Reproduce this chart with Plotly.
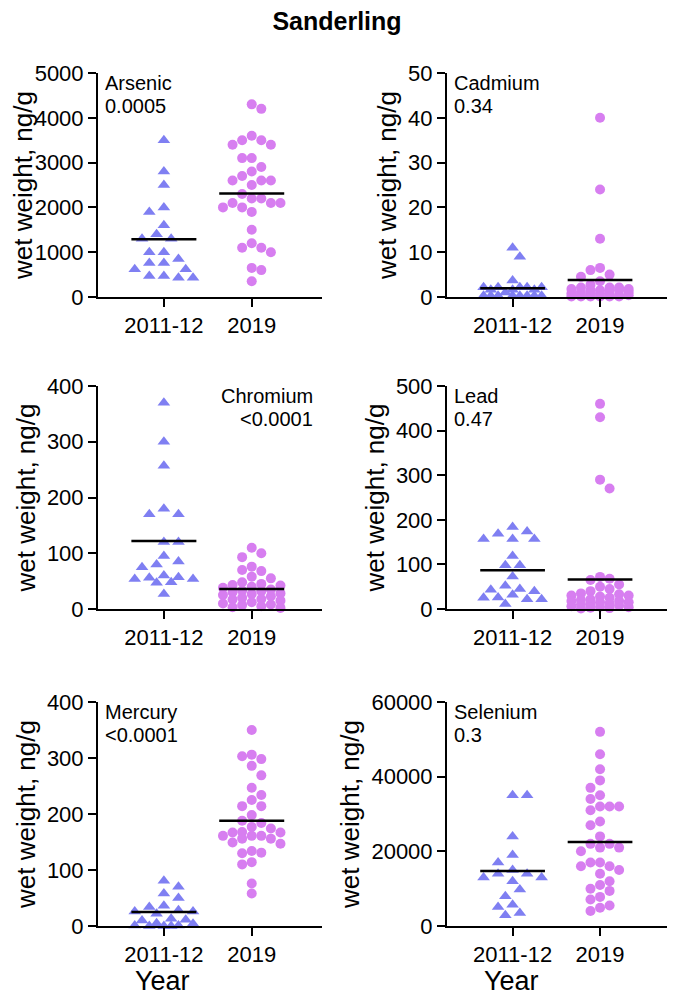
import plotly.graph_objects as go
from plotly.subplots import make_subplots

years = ["2011-12", "2019"]

# values (wet weight, ng/g)
arsenic_2011 = [3500, 2800, 2500, 2000, 1900, 1600, 1400, 1300, 1300, 1000, 1000,
                850, 760, 760, 620, 620, 470, 470, 430, 430]
arsenic_2019 = [4300, 4200, 3600, 3500, 3500, 3400, 3400, 3100, 3100, 2900, 2800,
                2700, 2600, 2600, 2600, 2500, 2300, 2200, 2200, 2100, 2100, 2100,
                2000, 2000, 1900, 1500, 1200, 1100, 1100, 1000, 650, 600, 350]
cadmium_2011 = [11, 9, 3.7, 2.2, 2.2, 2.2, 2.2, 2.2, 1.6, 1.6, 1.6, 1.0, 0.3, 0.3,
                0.3, 0.3, 0.3, 0.3, 0.3, 0.3]
cadmium_2019 = [40, 24, 13, 6.5, 6, 5, 4.5, 3.5, 2.7, 2.1, 2.1, 2.1, 1.8, 1.8,
                1.5, 1.5, 1.5, 1.5, 1.1, 1.1, 0.8, 0.8, 0.8, 0.8, 0.4, 0.4, 0.4,
                0.1, 0.1, 0.1, 0.1, 0.1, 0.1]
chromium_2011 = [370, 300, 257, 180, 170, 170, 120, 120, 95, 85, 80, 75, 60, 57,
                 56, 54, 54, 48, 47, 27]
chromium_2019 = [110, 100, 93, 76, 70, 68, 58, 55, 48, 45, 43, 42, 40, 38, 35, 33,
                 32, 30, 28, 27, 25, 23, 20, 18, 17, 15, 12, 10, 8, 7, 5, 3, 2]
lead_2011 = [184, 174, 169, 157, 157, 157, 119, 98, 98, 73, 52, 45, 43, 40, 32,
             26, 25, 22, 22, 11]
lead_2019 = [460, 430, 290, 270, 72, 68, 65, 55, 50, 45, 40, 35, 33, 30, 30, 28,
             25, 22, 20, 18, 18, 15, 15, 12, 12, 10, 8, 6, 5, 4, 3, 2, 1]
mercury_2011 = [81, 70, 58, 50, 36, 34, 28, 26, 26, 22, 13, 11, 10, 5, 4, 1, 1,
                0, 0, 0]
mercury_2019 = [350, 306, 303, 298, 286, 269, 247, 234, 225, 214, 214, 198, 188,
                184, 177, 174, 168, 167, 167, 161, 161, 161, 156, 156, 149, 147,
                134, 131, 130, 114, 110, 76, 58]
selenium_2011 = [35000, 35000, 24000, 19000, 17000, 15000, 14000, 14000, 13000,
                 13000, 12000, 9800, 8000, 5700, 5100, 3500, 2900]
selenium_2019 = [52000, 46000, 42000, 39000, 37000, 35000, 34000, 32000, 32000,
                 32000, 31000, 28000, 27000, 24000, 22000, 22000, 21000, 21000,
                 20000, 17000, 17000, 16000, 16000, 15000, 14000, 12000, 11000,
                 10000, 9400, 7800, 7100, 5500, 4900, 4000]

# mean lines as drawn
arsenic_mean = [1290, 2310]
cadmium_mean = [1.95, 3.8]
chromium_mean = [122, 36]
lead_mean = [87, 66]
mercury_mean = [25, 188]
selenium_mean = [14700, 22500]

elements = ["Arsenic", "Cadmium", "Chromium", "Lead", "Mercury", "Selenium"]
p_values = ["0.0005", "0.34", "<0.0001", "0.47", "<0.0001", "0.3"]
y_max = [5000, 50, 400, 500, 400, 60000]
y_step = [1000, 10, 100, 100, 100, 20000]

groups = [
    (arsenic_2011, arsenic_2019, arsenic_mean),
    (cadmium_2011, cadmium_2019, cadmium_mean),
    (chromium_2011, chromium_2019, chromium_mean),
    (lead_2011, lead_2019, lead_mean),
    (mercury_2011, mercury_2019, mercury_mean),
    (selenium_2011, selenium_2019, selenium_mean),
]

BLUE = "#7f7ff2"
PINK = "#d77ef0"
FONT = "Liberation Sans, Arial, sans-serif"
W, H = 675, 996
PLOT_H = 224.0   # px height of each panel
PX_CAT = 88.0    # px per category unit


def swarm(vals, ymax, step, gap, limit=30):
    # beeswarm: push points sideways until they stop overlapping,
    # never further than `limit` px from the centre
    scale = PLOT_H / ymax
    placed = []
    offs = [0.0] * len(vals)
    order = sorted(range(len(vals)), key=lambda i: -vals[i])
    for n, i in enumerate(order):
        y = vals[i] * scale
        cands = [0.0]
        k = 1
        while k * step <= limit:
            pair = [k * step, -k * step]
            cands += pair if n % 2 else pair[::-1]
            k += 1
        best, best_d = 0.0, -1
        for c in cands:
            d = min([((c - a) ** 2 + (y - b) ** 2) ** 0.5 for a, b in placed] or [1e9])
            if d >= gap:
                best = c
                break
            if d > best_d:
                best, best_d = c, d
        placed.append((best, y))
        offs[i] = best / PX_CAT
    return offs


fig = make_subplots(rows=3, cols=2)

# panel edges in page pixels (page has an 8px body margin)
x_px = [(90, 314), (439, 662)]
y_px = [(65, 289), (378, 601), (694, 918)]
x_dom = [[a / W, b / W] for a, b in x_px]
y_dom = [[1 - b / H, 1 - a / H] for a, b in y_px]

for k in range(6):
    row, col = k // 2 + 1, k % 2 + 1
    old, new, means = groups[k]
    ox = swarm(old, y_max[k], 7.3, 10.5)
    nx = swarm(new, y_max[k], 9.6, 9.6)
    fig.add_trace(go.Scatter(
        x=[0 + o for o in ox], y=old, mode="markers", cliponaxis=False,
        marker=dict(symbol="triangle-up", size=11, color=BLUE)), row=row, col=col)
    fig.add_trace(go.Scatter(
        x=[1 + o for o in nx], y=new, mode="markers", cliponaxis=False,
        marker=dict(symbol="circle", size=10, color=PINK)), row=row, col=col)
    for j in range(2):
        fig.add_trace(go.Scatter(
            x=[j - 0.37, j + 0.37], y=[means[j], means[j]], mode="lines",
            cliponaxis=False, line=dict(color="black", width=2.5)), row=row, col=col)

    sfx = "" if k == 0 else str(k + 1)
    fig.layout["xaxis" + sfx].domain = x_dom[col - 1]
    fig.layout["yaxis" + sfx].domain = y_dom[row - 1]
    fig.update_xaxes(range=[-0.75, 1.8], tickvals=[0, 1], ticktext=years,
                     showline=True, linecolor="black", linewidth=2,
                     ticks="outside", ticklen=8, tickwidth=2, tickcolor="black",
                     showgrid=False, zeroline=False, automargin=False,
                     tickfont=dict(size=22, color="black", family=FONT),
                     row=row, col=col)
    fig.update_yaxes(range=[0, y_max[k]], dtick=y_step[k], tickformat="d",
                     showline=True, linecolor="black", linewidth=2,
                     ticks="outside", ticklen=8, tickwidth=2, tickcolor="black",
                     showgrid=False, zeroline=False, automargin=False,
                     tickfont=dict(size=22, color="black", family=FONT),
                     title=dict(text="wet weight, ng/g", standoff=4,
                                font=dict(size=26, color="black", family=FONT)),
                     row=row, col=col)

    right = elements[k] == "Chromium"
    for txt, shift in [(elements[k], -10), (p_values[k], -33)]:
        fig.add_annotation(
            text=txt, xref="x" + sfx + " domain", yref="y" + sfx + " domain",
            x=1 if right else 0, y=1, xanchor="right" if right else "left",
            yanchor="middle", xshift=-7 if right else 5, yshift=shift,
            showarrow=False, font=dict(size=20, color="black", family=FONT))

    if row == 3:
        fig.add_annotation(
            text="Year", xref="x" + sfx + " domain", yref="y" + sfx + " domain",
            x=0.29, y=0, yshift=-55, yanchor="middle", xanchor="center",
            showarrow=False, font=dict(size=27, color="black", family=FONT))

fig.update_layout(
    title=dict(text="<b>Sanderling</b>", x=329 / W, xanchor="center",
               y=1 - 4 / H, yanchor="top", pad=dict(t=0),
               font=dict(size=25, color="black", family=FONT)),
    width=W, height=H,
    margin=dict(l=0, r=0, t=0, b=0, autoexpand=False),
    showlegend=False,
    plot_bgcolor="white", paper_bgcolor="white",
    font=dict(family=FONT, color="black"),
)

fig.write_html("out.html")
